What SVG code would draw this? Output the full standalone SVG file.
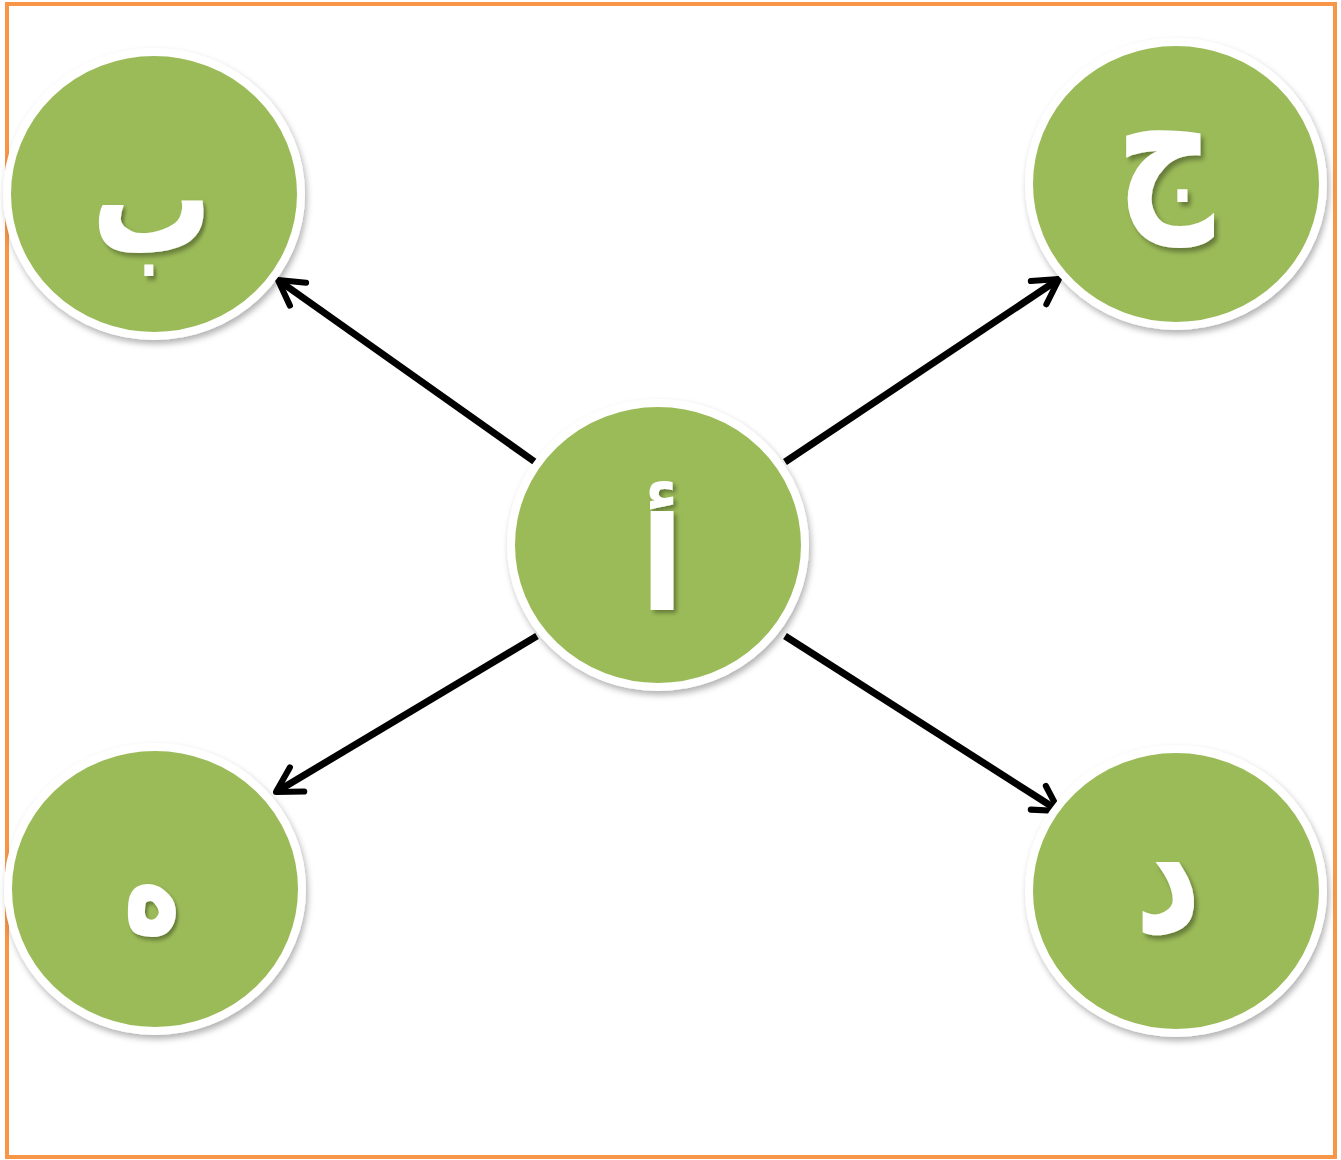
<svg xmlns="http://www.w3.org/2000/svg" width="1341" height="1160" viewBox="0 0 1341 1160">
  <defs>
    <filter id="shadow" x="-20%" y="-20%" width="140%" height="140%">
      <feDropShadow dx="2" dy="4" stdDeviation="3" flood-color="#000" flood-opacity="0.3"/>
    </filter>
    <filter id="txtShadow" x="-30%" y="-30%" width="160%" height="160%">
      <feDropShadow dx="3" dy="3" stdDeviation="2" flood-color="#000" flood-opacity="0.35"/>
    </filter>
    <marker id="head" viewBox="0 0 20 20" refX="17" refY="10" markerWidth="5" markerHeight="5" markerUnits="strokeWidth" orient="auto">
      <path d="M3,2 L17,10 L3,18" fill="none" stroke="#000" stroke-width="3.5" stroke-linecap="round" stroke-linejoin="round"/>
    </marker>
  </defs>
  <style>
    .disc { fill: #9BBB59; stroke: #FFFFFF; stroke-width: 8; filter: url(#shadow); }
    .letter { fill: #FFFFFF; font-family: "DejaVu Sans", "Noto Sans", sans-serif; font-weight: bold; font-size: 130px; text-anchor: middle; filter: url(#txtShadow); }
    .link { stroke: #000; stroke-width: 7; fill: none; marker-end: url(#head); }
  </style>

  <rect x="0" y="0" width="1341" height="1160" fill="#FFFFFF"/>
  <rect x="7" y="4" width="1328" height="1153" fill="none" stroke="#F79646" stroke-width="4"/>

  <g id="connectors">
    <line class="link" x1="535" y1="462" x2="278" y2="280"/>
    <line class="link" x1="785" y1="462" x2="1059" y2="279"/>
    <line class="link" x1="537" y1="636" x2="276" y2="792"/>
    <line class="link" x1="785" y1="636" x2="1059" y2="811"/>
  </g>

  <g id="node-center">
    <ellipse class="disc" cx="658" cy="545" rx="147" ry="142"/>
    <text class="letter" x="662" y="610">أ</text>
  </g>
  <g id="node-ba">
    <ellipse class="disc" cx="154" cy="194" rx="147" ry="142"/>
    <text class="letter" x="1" y="21" transform="translate(151,226) scale(0.93,1.22)">ب</text>
  </g>
  <g id="node-jim">
    <ellipse class="disc" cx="1176" cy="184" rx="147" ry="142"/>
    <text class="letter" x="0" y="12" transform="translate(1165,189) scale(1.05,1.35)">ج</text>
  </g>
  <g id="node-ha">
    <ellipse class="disc" cx="155" cy="889" rx="147" ry="142"/>
    <text class="letter" x="0" y="25" transform="translate(152,906) scale(0.75,1.06)">ه</text>
  </g>
  <g id="node-dal">
    <ellipse class="disc" cx="1176" cy="891" rx="147" ry="142"/>
    <text class="letter" x="0" y="0" transform="translate(1168,932) scale(1,1.3)">د</text>
  </g>
</svg>
